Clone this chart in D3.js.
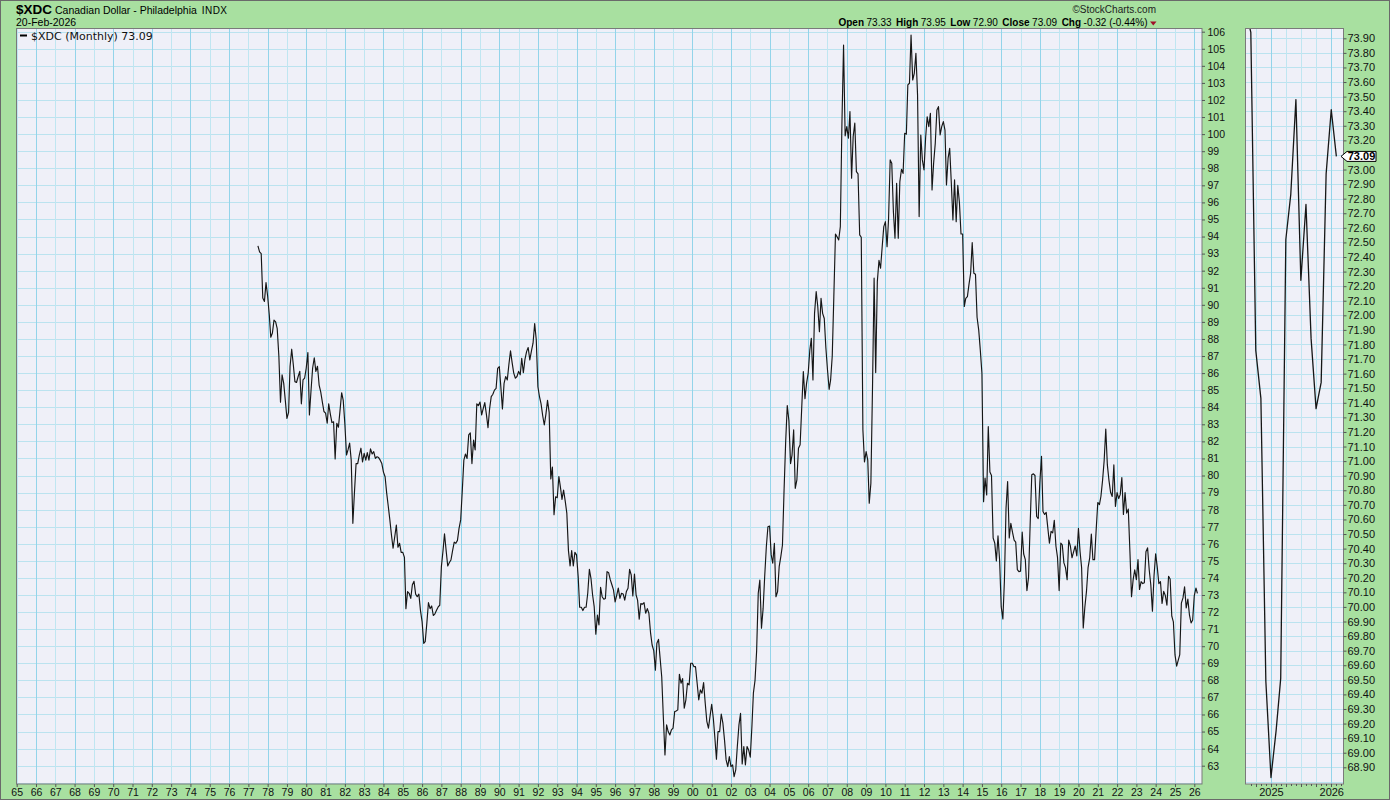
<!DOCTYPE html>
<html>
<head>
<meta charset="utf-8">
<script src="https://cdn.jsdelivr.net/npm/d3@7"></script>
<style>
  body { margin: 0; background: #fff; }
  svg { display: block; }
</style>
</head>
<body>
<svg id="chart" width="1390" height="800"></svg>
<script>
// monthly closes of $XDC, first value is the June 1977 close, last is Feb 2026
var closeStart = [1977, 5];
var monthlyCloses = [
  93.45, 93.1, 93.0, 90.4, 90.2, 91.3,
  90.5, 89.4, 88.1, 88.35, 89.1, 89.0, 88.6, 87.0, 84.3, 85.9, 85.4, 84.4,
  83.35, 83.7, 86.4, 87.4, 86.5, 85.5, 85.45, 85.8, 86.1, 84.2, 85.6, 85.7,
  86.3, 87.2, 83.55, 85.0, 86.3, 86.9, 86.1, 86.4, 85.3, 84.9, 84.3, 83.75,
  83.65, 83.06, 84.2, 83.6, 83.1, 83.15, 80.97, 83.06, 82.83, 83.8, 84.85, 84.4,
  83.0, 81.2, 81.5, 81.9, 80.9, 77.2, 79.0, 80.7, 80.7, 81.2, 81.6, 80.8,
  81.3, 80.9, 81.34, 80.9, 81.56, 81.26, 81.4, 81.0, 81.1, 81.05, 80.9, 80.7,
  80.2, 79.93, 79.0, 78.2, 77.4, 76.5, 75.74, 76.4, 77.1, 75.8, 76.03, 75.5,
  75.5, 75.2, 72.2, 73.2, 73.1, 72.8, 73.6, 73.8, 73.05, 72.9, 73.05, 72.1,
  71.44, 70.17, 70.27, 71.35, 72.55, 72.2, 72.36, 71.8, 71.9, 72.1, 72.3, 72.4,
  74.66, 75.6, 76.58, 75.6, 74.7, 74.9, 75.05, 75.6, 76.1, 76.03, 76.2, 76.9,
  77.4, 79.15, 80.9, 81.26, 81.0, 82.38, 82.5, 80.7, 82.07, 81.5, 84.2, 84.1,
  84.3, 83.55, 83.9, 84.27, 83.6, 82.8, 83.9, 84.62, 84.76, 85.0, 85.1, 86.28,
  86.38, 85.1, 83.9, 85.4, 85.8, 85.6, 86.5, 87.3, 86.6, 86.0, 85.7, 85.8,
  86.1, 85.9, 86.87, 86.02, 86.8, 87.26, 87.5, 86.77, 87.3, 87.75, 88.9, 87.95,
  85.2, 84.6, 84.2, 83.5, 82.96, 83.6, 84.4, 83.7, 79.8, 80.5, 77.7, 78.75,
  78.7, 79.94, 79.35, 78.6, 79.15, 78.5, 77.8, 75.6, 74.7, 75.6, 74.7, 75.5,
  75.35, 74.08, 72.28, 72.28, 72.09, 72.28, 72.28, 73.1, 74.5, 73.98, 73.0, 72.32,
  70.7, 71.83, 71.25, 73.45, 72.9, 72.75, 72.8, 74.37, 74.3, 73.9, 73.6, 73.3,
  72.6, 73.0, 73.4, 72.8, 73.1, 73.06, 72.7, 73.2, 73.4, 74.5, 74.17, 72.95,
  74.23, 73.0, 72.7, 71.58, 72.5, 72.46, 72.55, 71.93, 72.2, 71.93, 70.8, 70.07,
  69.74, 68.6, 70.17, 70.4, 69.3, 68.2, 65.87, 63.63, 65.39, 65.0, 64.8, 65.1,
  65.2, 66.17, 66.2, 66.27, 68.36, 67.83, 68.1, 66.37, 66.86, 67.83, 67.73, 69.0,
  69.0, 68.8, 68.8, 67.83, 66.86, 67.44, 67.25, 67.87, 66.66, 65.6, 65.2, 65.9,
  66.6, 65.78, 64.7, 63.38, 65.0, 65.0, 66.03, 65.49, 64.5, 63.34, 62.95, 63.53,
  62.95, 63.05, 62.36, 62.75, 64.12, 65.39, 66.07, 63.1, 64.12, 63.05, 64.12, 63.92,
  63.5, 65.3, 67.25, 68.0, 69.7, 73.1, 73.88, 71.05, 72.2, 74.1, 75.83, 77.0,
  77.04, 75.35, 74.86, 76.03, 72.9, 73.2, 74.66, 75.25, 75.93, 79.1, 82.0, 84.1,
  83.2, 80.7, 81.2, 82.67, 79.25, 79.74, 81.6, 81.8, 84.0, 86.09, 84.5, 85.4,
  86.0, 87.35, 88.04, 85.6, 89.5, 90.77, 89.9, 88.43, 90.38, 89.5, 89.2, 87.5,
  86.2, 85.05, 85.6, 87.0, 90.48, 94.15, 93.99, 93.8, 94.58, 100.6, 105.22, 99.9,
  100.44, 99.76, 101.32, 97.42, 99.86, 100.64, 97.8, 97.67, 94.1, 93.96, 82.67, 80.8,
  81.4, 80.9, 78.38, 79.55, 85.0, 91.56, 86.03, 91.37, 92.6, 92.14, 93.4, 94.58,
  94.87, 93.4, 95.0, 98.49, 98.3, 95.46, 93.9, 97.12, 93.9, 97.22, 97.94, 97.7,
  100.05, 100.0, 102.88, 102.98, 105.8, 103.17, 103.56, 104.74, 102.3, 95.17, 99.95, 98.49,
  97.9, 99.8, 101.02, 100.44, 101.22, 96.73, 98.3, 99.46, 101.42, 101.61, 99.95, 100.44,
  100.73, 100.24, 97.02, 98.59, 99.17, 97.12, 94.97, 97.32, 94.87, 97.0, 96.0, 94.15,
  94.15, 89.9, 90.38, 90.48, 91.2, 91.85, 93.64, 91.85, 91.79, 89.27, 88.53, 87.36,
  85.99, 78.47, 79.85, 78.86, 82.86, 80.2, 80.0, 76.34, 76.04, 75.0, 76.46, 75.07,
  72.3, 71.6, 73.8, 78.08, 79.65, 76.34, 77.2, 76.68, 76.22, 76.1, 74.49, 74.37,
  74.4, 76.68, 75.4, 75.07, 73.26, 74.03, 77.1, 80.04, 80.1, 80.0, 77.6, 77.48,
  79.6, 81.13, 77.89, 77.72, 77.84, 76.92, 76.04, 76.73, 76.64, 77.38, 75.87, 75.2,
  73.26, 76.04, 75.94, 74.88, 74.6, 73.9, 76.22, 75.87, 75.18, 75.53, 75.87, 75.29,
  76.9, 75.53, 74.6, 71.07, 72.28, 73.21, 74.6, 75.18, 76.57, 75.07, 75.07, 76.8,
  78.42, 78.3, 78.77, 79.7, 80.85, 82.72, 80.62, 79.7, 79.0, 78.77, 80.62, 78.19,
  79.0, 78.65, 78.88, 79.88, 77.72, 79.0, 77.8, 78.03, 75.53, 72.9, 73.9, 74.48,
  73.9, 75.07, 73.32, 73.78, 73.67, 73.72, 75.53, 75.76, 74.48, 73.6, 72.05, 74.13,
  75.41, 74.6, 73.67, 73.78, 72.51, 73.21, 72.98, 72.4, 74.1, 73.94, 71.76, 71.43,
  69.49, 68.83, 69.15, 69.51, 72.52, 72.83, 73.48, 72.24, 72.76, 71.84, 71.36, 71.54,
  72.97, 73.41, 73.09
];

var mainYTicks = d3.range(63, 107);
var mainYears = d3.range(1965, 2027);
var sideYTicks = d3.range(689, 740).map(function(d) { return d / 10; });
var sideYears = [2025, 2026];
var sideFrom = new Date(2024, 7, 1);

var header = {symbol: "$XDC", name: "Canadian Dollar - Philadelphia", exch: "INDX", date: "20-Feb-2026"};
var quoteLabels = ["Open", "High", "Low", "Close", "Chg"];
var quoteValues = ["73.33", "73.95", "72.90", "73.09", "-0.32 (-0.44%)"];
var lastClose = monthlyCloses[monthlyCloses.length - 1];

var data = monthlyCloses.map(function(v, i) {
  return {month: new Date(closeStart[0], closeStart[1] + i, 1), value: v};
});

var svg = d3.select("#chart");
var axisFont = "'Liberation Sans', Arial, sans-serif";

svg.append("rect").attr("width", 1390).attr("height", 800).attr("fill", "#a8e0a0");

// ---------- main panel ----------
var M = {left: 16.5, top: 28.5, right: 1202, bottom: 784};

var x = d3.scaleTime()
  .domain([new Date(1965, 0, 1), new Date(2026, 0, 1)])
  .range([16.7, 1194.3]);
var y = d3.scaleLinear().domain([63, 106]).range([765.7, 31.7]);

svg.append("rect")
  .attr("x", M.left).attr("y", M.top)
  .attr("width", M.right - M.left).attr("height", M.bottom - M.top)
  .attr("fill", "#eff0f8");

var defs = svg.append("defs");
defs.append("clipPath").attr("id", "clipMain").append("rect")
  .attr("x", M.left).attr("y", M.top)
  .attr("width", M.right - M.left).attr("height", M.bottom - M.top);

var grid = svg.append("g").attr("clip-path", "url(#clipMain)");
grid.selectAll(".hg").data(d3.range(62, 107)).enter().append("line")
  .attr("x1", M.left).attr("x2", M.right)
  .attr("y1", function(d) { return Math.round(y(d)) + 0.5; })
  .attr("y2", function(d) { return Math.round(y(d)) + 0.5; })
  .attr("stroke", "#bbe3ef");
grid.selectAll(".vg").data(mainYears).enter().append("line")
  .attr("x1", function(d) { return Math.round(x(new Date(d, 0, 1))) + 0.5; })
  .attr("x2", function(d) { return Math.round(x(new Date(d, 0, 1))) + 0.5; })
  .attr("y1", M.top).attr("y2", M.bottom)
  .attr("stroke", function(d) { return d % 2 === 0 ? "#93d4ea" : "#bfe6f1"; });

var mainLine = d3.line()
  .x(function(d) { return x(d3.timeMonth.offset(d.month, 1)); })
  .y(function(d) { return y(d.value); });

svg.append("path")
  .datum(data)
  .attr("clip-path", "url(#clipMain)")
  .attr("d", mainLine)
  .attr("fill", "none")
  .attr("stroke", "#161616")
  .attr("stroke-width", 1.15)
  .attr("stroke-linejoin", "round");

svg.append("rect")
  .attr("x", M.left).attr("y", M.top)
  .attr("width", M.right - M.left).attr("height", M.bottom - M.top)
  .attr("fill", "none").attr("stroke", "#7a7a7a");

var yAxis = d3.axisRight(y).tickValues(mainYTicks).tickSize(3).tickPadding(2.5)
  .tickFormat(d3.format("d"));
svg.append("g")
  .attr("transform", "translate(" + M.right + ",0)")
  .call(yAxis)
  .call(function(g) { g.select(".domain").remove(); })
  .attr("font-family", axisFont).attr("font-size", 10.5)
  .call(function(g) {
    g.selectAll("line").attr("stroke", "#555");
    g.selectAll("text").attr("fill", "#111");
  });

var xAxis = d3.axisBottom(x)
  .tickValues(mainYears.map(function(d) { return new Date(d, 0, 1); }))
  .tickFormat(d3.timeFormat("%y")).tickSize(3).tickPadding(1.5);
svg.append("g")
  .attr("transform", "translate(0," + M.bottom + ")")
  .call(xAxis)
  .call(function(g) { g.select(".domain").remove(); })
  .attr("font-family", axisFont).attr("font-size", 10.5)
  .call(function(g) {
    g.selectAll("line").attr("stroke", "#555");
    g.selectAll("text").attr("fill", "#111");
  });

// legend inside plot
svg.append("line").attr("x1", 20).attr("x2", 27).attr("y1", 35.5).attr("y2", 35.5)
  .attr("stroke", "#000").attr("stroke-width", 2);
svg.append("text").attr("x", 31).attr("y", 39.5)
  .attr("font-family", "'DejaVu Sans', sans-serif").attr("font-size", 11)
  .attr("fill", "#111")
  .text(header.symbol + " (Monthly) " + d3.format(".2f")(lastClose));

// ---------- side panel ----------
var S = {left: 1245.5, top: 28.5, right: 1343.5, bottom: 784};
var sx = d3.scaleTime()
  .domain([new Date(2024, 7, 1), new Date(2026, 2, 15)])
  .range([1245.7, 1343.3]);
var sy = d3.scaleLinear().domain([68.9, 73.9]).range([767.3, 38.3]);

svg.append("rect")
  .attr("x", S.left).attr("y", S.top)
  .attr("width", S.right - S.left).attr("height", S.bottom - S.top)
  .attr("fill", "#eff0f8");
defs.append("clipPath").attr("id", "clipSide").append("rect")
  .attr("x", S.left).attr("y", S.top)
  .attr("width", S.right - S.left).attr("height", S.bottom - S.top);

var sgrid = svg.append("g").attr("clip-path", "url(#clipSide)");
sgrid.selectAll(".hg").data(d3.range(688, 740).map(function(d) { return d / 10; }))
  .enter().append("line")
  .attr("x1", S.left).attr("x2", S.right)
  .attr("y1", function(d) { return Math.round(sy(d)) + 0.5; })
  .attr("y2", function(d) { return Math.round(sy(d)) + 0.5; })
  .attr("stroke", "#bbe3ef");
var quarters = d3.timeMonth.range(new Date(2024, 9, 1), new Date(2026, 3, 1), 3);
sgrid.selectAll(".vg").data(quarters).enter().append("line")
  .attr("x1", function(d) { return Math.round(sx(d)) + 0.5; })
  .attr("x2", function(d) { return Math.round(sx(d)) + 0.5; })
  .attr("y1", S.top).attr("y2", S.bottom)
  .attr("stroke", function(d) { return d.getMonth() === 0 ? "#93d4ea" : "#bfe6f1"; });

var sideData = data.filter(function(d) { return d.month >= sideFrom; });
var sideLine = d3.line()
  .x(function(d) { return sx(d.month); })
  .y(function(d) { return sy(d.value); });
svg.append("path")
  .datum(sideData)
  .attr("clip-path", "url(#clipSide)")
  .attr("d", sideLine)
  .attr("fill", "none")
  .attr("stroke", "#161616")
  .attr("stroke-width", 1.3)
  .attr("stroke-linejoin", "round");

svg.append("rect")
  .attr("x", S.left).attr("y", S.top)
  .attr("width", S.right - S.left).attr("height", S.bottom - S.top)
  .attr("fill", "none").attr("stroke", "#7a7a7a");

var syAxis = d3.axisRight(sy).tickValues(sideYTicks).tickSize(3).tickPadding(1)
  .tickFormat(d3.format(".2f"));
svg.append("g")
  .attr("transform", "translate(" + S.right + ",0)")
  .call(syAxis)
  .call(function(g) { g.select(".domain").remove(); })
  .attr("font-family", axisFont).attr("font-size", 11)
  .call(function(g) {
    g.selectAll("line").attr("stroke", "#555");
    g.selectAll("text").attr("fill", "#111");
  });

// monthly minor ticks on the side panel's time axis
svg.append("g").selectAll("line")
  .data(d3.timeMonth.range(new Date(2024, 8, 1), new Date(2026, 2, 2)))
  .enter().append("line")
  .attr("x1", function(d) { return Math.round(sx(d)) + 0.5; })
  .attr("x2", function(d) { return Math.round(sx(d)) + 0.5; })
  .attr("y1", S.bottom).attr("y2", function(d) { return S.bottom + (d.getMonth() % 3 === 0 ? 3 : 2); })
  .attr("stroke", "#555");

var sxAxis = d3.axisBottom(sx)
  .tickValues(sideYears.map(function(d) { return new Date(d, 0, 1); }))
  .tickFormat(d3.timeFormat("%Y")).tickSize(0).tickPadding(4.5);
svg.append("g")
  .attr("transform", "translate(0," + S.bottom + ")")
  .call(sxAxis)
  .call(function(g) { g.select(".domain").remove(); })
  .attr("font-family", axisFont).attr("font-size", 11)
  .call(function(g) { g.selectAll("text").attr("fill", "#111"); });

// last-value tag
var tagY = sy(lastClose);
svg.append("path")
  .attr("d", "M1341," + tagY + "L1347," + (tagY - 5) + "H1376V" + (tagY + 5) + "H1347Z")
  .attr("fill", "#fff").attr("stroke", "#000").attr("stroke-width", 1);
svg.append("text")
  .attr("x", 1361.5).attr("y", tagY + 4)
  .attr("text-anchor", "middle")
  .attr("font-family", axisFont).attr("font-size", 11).attr("font-weight", "bold")
  .attr("fill", "#000")
  .text(d3.format(".2f")(lastClose));

// ---------- header ----------
var titleText = svg.append("text").attr("x", 16).attr("y", 14)
  .attr("font-family", axisFont).attr("fill", "#000");
titleText.append("tspan").attr("font-size", 13.5).attr("font-weight", "bold").text(header.symbol);
titleText.append("tspan").attr("dx", 3).attr("font-size", 10.5).text(header.name);
titleText.append("tspan").attr("dx", 5).attr("font-size", 10).attr("letter-spacing", 0.4).text(header.exch);

svg.append("text").attr("x", 16).attr("y", 26)
  .attr("font-family", axisFont).attr("font-size", 10.5).attr("fill", "#000")
  .text(header.date);

svg.append("text").attr("x", 1156).attr("y", 13)
  .attr("text-anchor", "end")
  .attr("font-family", axisFont).attr("font-size", 10).attr("fill", "#222")
  .text("\u00A9StockCharts.com");

var quote = svg.append("text").attr("x", 1147.5).attr("y", 26)
  .attr("text-anchor", "end")
  .attr("font-family", axisFont).attr("font-size", 10).attr("fill", "#000");
quoteLabels.forEach(function(lab, i) {
  quote.append("tspan").attr("dx", i === 0 ? 0 : 4.5).attr("font-weight", "bold").text(lab);
  quote.append("tspan").attr("dx", 2.5).text(quoteValues[i]);
});
svg.append("path").attr("d", "M1150,21.5H1156.5L1153.25,25.5Z").attr("fill", "#a0102a");

// outer frame
svg.append("rect").attr("x", 0.5).attr("y", 0.5).attr("width", 1389).attr("height", 799)
  .attr("fill", "none").attr("stroke", "#6a6a6a");
</script>
</body>
</html>
